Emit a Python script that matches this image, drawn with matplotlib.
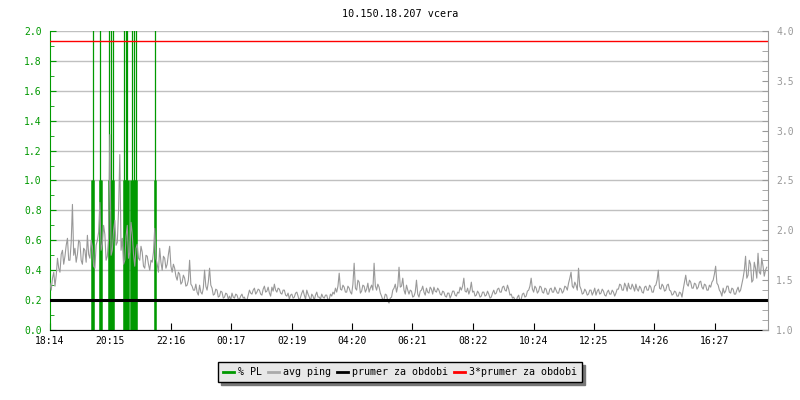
import numpy as np
import matplotlib
matplotlib.use("Agg")
import matplotlib.pyplot as plt
from matplotlib.lines import Line2D
from matplotlib.ticker import MultipleLocator, FixedLocator

plt.rcParams['font.family'] = ['DejaVu Sans Mono']
plt.rcParams['font.size'] = 7

# avg ping (ms), one sample every 2.5 minutes starting 18:14 (one row per hour)
ping_ms = [
    1.47, 1.40, 1.52, 1.58, 1.44, 1.55, 1.72, 1.62, 1.58, 1.76, 1.80, 1.66, 1.74, 1.85, 1.92, 1.70, 1.70, 1.88, 2.26, 1.75, 1.82, 1.68, 1.76, 1.90,
    1.88, 1.70, 1.66, 1.82, 1.80, 1.68, 1.95, 1.76, 1.72, 1.90, 1.84, 1.64, 1.62, 1.85, 1.90, 1.98, 2.28, 1.80, 1.86, 2.05, 1.96, 1.70, 1.74, 1.92,
    2.96, 1.75, 1.80, 2.00, 2.10, 1.85, 1.88, 2.20, 2.76, 1.80, 1.92, 1.66, 1.70, 1.94, 2.05, 1.72, 1.78, 2.08, 1.96, 1.76, 1.64, 1.82, 1.86, 1.72,
    1.70, 1.84, 1.78, 1.64, 1.62, 1.75, 1.74, 1.66, 1.60, 1.70, 1.68, 1.78, 2.02, 1.72, 1.66, 1.58, 1.82, 1.68, 1.60, 1.74, 1.72, 1.62, 1.66, 1.76,
    1.84, 1.64, 1.58, 1.66, 1.62, 1.54, 1.50, 1.58, 1.56, 1.46, 1.48, 1.55, 1.52, 1.44, 1.45, 1.50, 1.70, 1.46, 1.44, 1.40, 1.40, 1.46, 1.38, 1.35,
    1.45, 1.38, 1.36, 1.42, 1.60, 1.44, 1.40, 1.48, 1.62, 1.45, 1.42, 1.35, 1.36, 1.41, 1.40, 1.33, 1.34, 1.39, 1.38, 1.32, 1.33, 1.37, 1.36, 1.31,
    1.34, 1.30, 1.37, 1.33, 1.32, 1.36, 1.35, 1.31, 1.31, 1.34, 1.36, 1.32, 1.33, 1.29, 1.30, 1.35, 1.40, 1.37, 1.36, 1.40, 1.42, 1.36, 1.38, 1.41,
    1.40, 1.36, 1.35, 1.41, 1.44, 1.38, 1.39, 1.43, 1.37, 1.34, 1.43, 1.39, 1.46, 1.40, 1.38, 1.42, 1.41, 1.37, 1.36, 1.40, 1.40, 1.35, 1.34, 1.37,
    1.31, 1.35, 1.36, 1.32, 1.33, 1.37, 1.38, 1.34, 1.29, 1.33, 1.37, 1.40, 1.35, 1.31, 1.40, 1.36, 1.33, 1.29, 1.36, 1.34, 1.30, 1.35, 1.38, 1.33,
    1.33, 1.31, 1.36, 1.33, 1.32, 1.35, 1.35, 1.30, 1.31, 1.36, 1.34, 1.38, 1.36, 1.42, 1.38, 1.44, 1.57, 1.41, 1.40, 1.45, 1.43, 1.38, 1.38, 1.44,
    1.42, 1.38, 1.36, 1.46, 1.67, 1.42, 1.40, 1.50, 1.48, 1.37, 1.39, 1.45, 1.44, 1.38, 1.41, 1.47, 1.38, 1.42, 1.45, 1.40, 1.67, 1.44, 1.40, 1.46,
    1.43, 1.37, 1.34, 1.30, 1.31, 1.36, 1.35, 1.29, 1.27, 1.32, 1.33, 1.40, 1.42, 1.46, 1.38, 1.44, 1.63, 1.43, 1.44, 1.52, 1.40, 1.36, 1.45, 1.40,
    1.36, 1.40, 1.39, 1.33, 1.34, 1.38, 1.50, 1.36, 1.33, 1.39, 1.40, 1.44, 1.38, 1.35, 1.42, 1.38, 1.37, 1.43, 1.41, 1.36, 1.43, 1.39, 1.38, 1.42,
    1.40, 1.36, 1.35, 1.39, 1.38, 1.34, 1.33, 1.37, 1.37, 1.32, 1.35, 1.39, 1.39, 1.35, 1.34, 1.38, 1.37, 1.43, 1.40, 1.44, 1.52, 1.39, 1.38, 1.42,
    1.36, 1.40, 1.48, 1.38, 1.39, 1.34, 1.35, 1.39, 1.37, 1.33, 1.34, 1.38, 1.38, 1.34, 1.35, 1.39, 1.36, 1.32, 1.33, 1.37, 1.40, 1.36, 1.37, 1.41,
    1.42, 1.38, 1.38, 1.43, 1.44, 1.40, 1.39, 1.45, 1.41, 1.35, 1.36, 1.32, 1.33, 1.30, 1.29, 1.33, 1.35, 1.29, 1.31, 1.36, 1.37, 1.33, 1.34, 1.39,
    1.40, 1.44, 1.52, 1.41, 1.38, 1.44, 1.42, 1.37, 1.39, 1.44, 1.43, 1.38, 1.37, 1.42, 1.41, 1.36, 1.36, 1.41, 1.42, 1.38, 1.38, 1.43, 1.40, 1.37,
    1.37, 1.42, 1.41, 1.37, 1.39, 1.44, 1.43, 1.40, 1.47, 1.52, 1.58, 1.44, 1.42, 1.48, 1.45, 1.40, 1.62, 1.44, 1.41, 1.36, 1.37, 1.41, 1.39, 1.35,
    1.36, 1.40, 1.40, 1.35, 1.38, 1.42, 1.35, 1.39, 1.41, 1.36, 1.37, 1.41, 1.39, 1.35, 1.34, 1.38, 1.40, 1.36, 1.36, 1.40, 1.38, 1.34, 1.37, 1.41,
    1.41, 1.46, 1.45, 1.40, 1.40, 1.47, 1.44, 1.39, 1.47, 1.42, 1.41, 1.46, 1.43, 1.39, 1.46, 1.41, 1.39, 1.44, 1.42, 1.38, 1.37, 1.43, 1.44, 1.40,
    1.40, 1.45, 1.43, 1.38, 1.38, 1.44, 1.45, 1.50, 1.60, 1.42, 1.41, 1.46, 1.44, 1.39, 1.40, 1.45, 1.46, 1.40, 1.39, 1.35, 1.36, 1.39, 1.38, 1.34,
    1.34, 1.38, 1.37, 1.33, 1.41, 1.48, 1.55, 1.46, 1.44, 1.50, 1.48, 1.42, 1.42, 1.47, 1.46, 1.41, 1.43, 1.48, 1.49, 1.43, 1.41, 1.46, 1.45, 1.40,
    1.40, 1.45, 1.43, 1.48, 1.50, 1.56, 1.64, 1.47, 1.45, 1.40, 1.38, 1.34, 1.42, 1.37, 1.39, 1.44, 1.44, 1.38, 1.37, 1.42, 1.41, 1.36, 1.36, 1.40,
    1.43, 1.38, 1.40, 1.46, 1.52, 1.60, 1.74, 1.52, 1.55, 1.70, 1.66, 1.48, 1.50, 1.68, 1.62, 1.52, 1.77, 1.58, 1.56, 1.72, 1.64, 1.54, 1.60, 1.63,
]
sample_step = 2.5  # minutes

# packet loss events (minutes after 18:14)
pl_one_min = [85, 87, 100, 102, 118, 121, 124, 126, 148, 150, 153, 156, 163, 167, 169, 171, 173, 210]
pl_one_val = [1, 1, 1, 1, 1, 1, 1, 1, 1, 1, 1, 1, 1, 1, 1, 1, 1, 1]
pl_high_min = [86, 101, 119, 122, 126, 149, 152, 155, 164, 168, 172, 211]
pl_high_val = [3, 3, 3, 3, 3, 3, 3, 3, 3, 3, 3, 3]

avg_ping = 1.3          # prumer za obdobi
start = (18, 14)
tick_labels = ['18:14', '20:15', '22:16', '00:17', '02:19', '04:20',
               '06:21', '08:22', '10:24', '12:25', '14:26', '16:27']

def label_to_min(s):
    h, m = map(int, s.split(':'))
    return (h * 60 + m - (start[0] * 60 + start[1])) % 1440

green = '#009900'
gray = '#999999'

fig = plt.figure(figsize=(8, 4), dpi=100)
ax = fig.add_axes([0.0625, 0.175, 0.8975, 0.7475])
ax2 = ax.twinx()

# grid + PL on left axis
ax.set_ylim(0, 2.0)
ax.set_xlim(0, 1440)
ax.yaxis.set_major_locator(MultipleLocator(0.2))
ax.yaxis.set_minor_locator(MultipleLocator(0.1))
ax.grid(axis='y', color='#c0c0c0', lw=1.0)
ax.set_axisbelow(True)
ax.vlines(pl_high_min, 0, pl_high_val, color=green, lw=0.9)
ax.vlines(pl_one_min, 0, pl_one_val, color=green, lw=1.8)

# ping on right axis
t = np.arange(len(ping_ms)) * sample_step
ax2.set_ylim(1.0, 4.0)
ax2.plot(t, ping_ms, color=gray, lw=0.8)
ax2.axhline(avg_ping, color='black', lw=2.2)
ax2.axhline(3 * avg_ping, color='red', lw=1.0)
ax2.yaxis.set_major_locator(MultipleLocator(0.5))
ax2.yaxis.set_minor_locator(MultipleLocator(0.1))

# x ticks
ax.xaxis.set_major_locator(FixedLocator([label_to_min(s) for s in tick_labels]))
ax.set_xticklabels(tick_labels)

# spines/ticks styling
for a in (ax, ax2):
    a.spines['top'].set_visible(False)
ax.spines['right'].set_visible(False)
ax2.spines['left'].set_visible(False)
ax2.spines['bottom'].set_visible(False)
ax.spines['left'].set_color(green)
ax.spines['bottom'].set_color('black')
ax2.spines['right'].set_color(gray)
ax.tick_params(axis='y', which='both', direction='in', colors=green, pad=6)
ax.tick_params(axis='y', which='major', length=4)
ax.tick_params(axis='y', which='minor', length=3)
ax.tick_params(axis='x', direction='in', length=5, color='black', labelcolor='black', pad=4)
ax2.tick_params(axis='y', which='both', direction='in', colors=gray, length=4, pad=6)

fig.text(0.5, 0.965, '10.150.18.207 vcera', ha='center', va='center', fontsize=7.3)

handles = [Line2D([], [], color=green, lw=2),
           Line2D([], [], color='#aaaaaa', lw=2),
           Line2D([], [], color='black', lw=2),
           Line2D([], [], color='red', lw=2)]
labels = ['% PL', 'avg ping', 'prumer za obdobi', '3*prumer za obdobi']
leg = fig.legend(handles, labels, loc='center', bbox_to_anchor=(0.5, 0.07), ncol=4,
                 frameon=True, fancybox=False, shadow={'color': '#777777', 'alpha': 1.0},
                 handlelength=1.1, handletextpad=0.4, columnspacing=0.6,
                 borderpad=0.5, fontsize=7.2)
leg.get_frame().set_edgecolor('black')
leg.get_frame().set_facecolor('#e8e8e8')
leg.get_frame().set_linewidth(1.0)

fig.savefig('out.png', dpi=100)
